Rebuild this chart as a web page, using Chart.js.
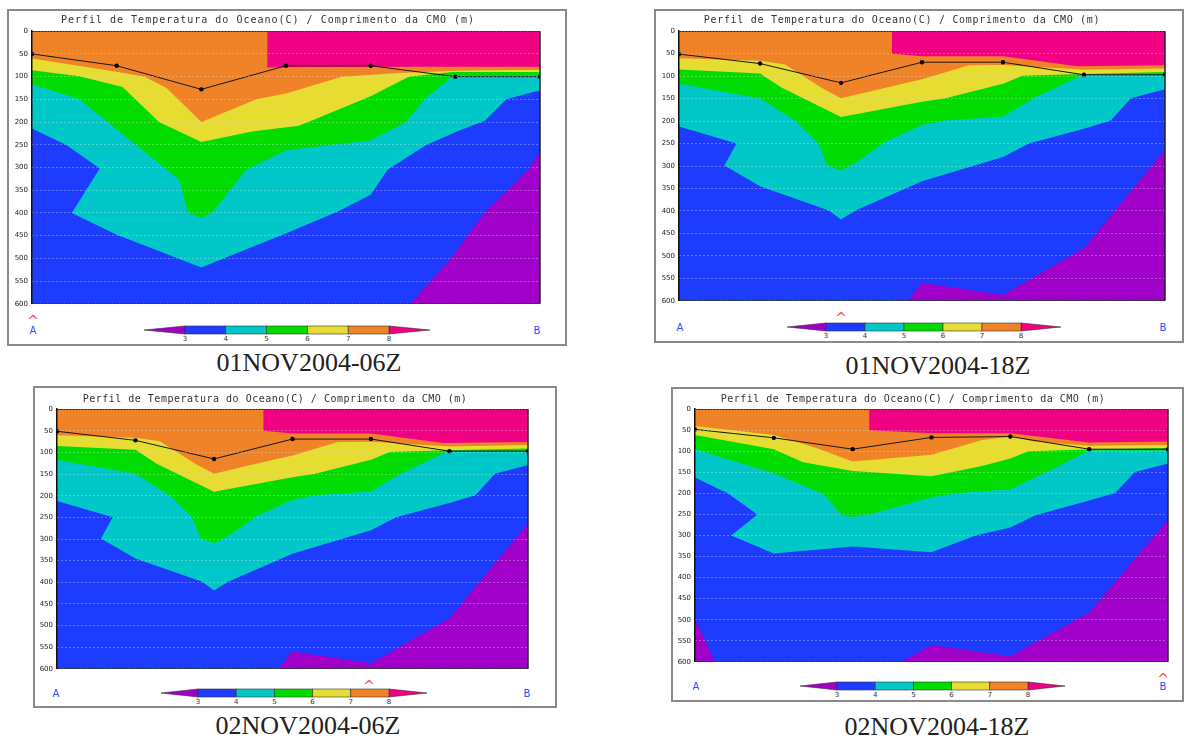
<!DOCTYPE html>
<html>
<head>
<meta charset="utf-8">
<script src="https://cdn.jsdelivr.net/npm/chart.js@4.4.0/dist/chart.umd.min.js"></script>
<style>
body{margin:0;background:#fff;width:1184px;height:739px;overflow:hidden;position:relative}
.moldura{position:absolute;border:2px solid #8a8a8a;box-sizing:border-box;background:#fff}
.t{position:absolute;white-space:nowrap;line-height:1;transform:translate(-50%,-50%)}
.titulo{font-family:"DejaVu Sans Mono",monospace;font-size:10px;color:#333}
.legenda{font-family:"Liberation Serif",serif;font-size:26px;color:#222}
.ab{font-family:"DejaVu Sans",sans-serif;font-size:10px;color:#2a4cff}
.marca{font-family:"DejaVu Sans",sans-serif;font-size:14px;color:#ff4a4a}
.nivel{font-family:"DejaVu Sans",sans-serif;font-size:7px;color:#333}
canvas,svg{position:absolute}
</style>
</head>
<body>
<script>
// estacoes ao longo da secao A-B
const estacoes = [0, 1, 2, 3, 4, 5, 6];
const niveis = [3, 4, 5, 6, 7, 8];
// <3, 3-4, 4-5, 5-6, 6-7, 7-8, >8
const cores = ['#a000c8', '#1e3cff', '#00c8c8', '#00dc00', '#e6dc32', '#f08228', '#f00082'];

// 01NOV2004-06Z  (profundidade da isoterma em m, por posicao na secao)
const cmo_0106 = [50, 76, 128, 76, 76, 100, 100];
const t8_0106 = [[0,0],[2.78,0],[2.78,80],[3.3,79],[4.5,78],[6,78]];
const t7_0106 = [[0,60],[1,89],[1.33,100],[1.59,125],[2,200],[2.65,150],[3,137],[3.66,100],[4.33,92],[5,87],[6,85]];
const t6_0106 = [[0,86],[0.56,99],[1.07,123],[1.5,200],[2,244],[2.6,221],[3.15,208],[3.3,197],[4,143],[4.45,100],[4.96,90],[6,90]];
const t5_0106 = [[0,117],[0.56,150],[1.74,327],[1.84,399],[2,411],[2.13,399],[2.53,305],[3,262],[4,240],[4.41,201],[4.65,147],[4.96,100],[6,97]];
const t4_0106 = [[0,214],[0.41,251],[0.8,302],[0.47,400],[1,448],[2,520],[3.04,442],[3.6,398],[4,360],[4.2,305],[4.65,251],[5.04,219],[5.35,197],[5.6,150],[6,130]];
const t3_0106 = [[4.47,600],[4.95,500],[5.35,398],[5.86,305],[6,266]];

// 01NOV2004-18Z (o painel 02NOV2004-06Z mostra o mesmo campo)
const cmo_0118 = [51, 72, 115, 69, 69, 97, 97];
const t8_0118 = [[0,0],[2.63,0],[2.63,50],[3,56],[4,56],[4.92,78],[6,76]];
const t7_0118 = [[0,60],[1,66],[1.31,74],[1.76,126],[2,149],[2.59,124],[3,107],[3.58,76],[4,75],[5,86],[6,83]];
const t6_0118 = [[0,85],[1,94],[1.27,126],[2,191],[3,157],[3.29,149],[4,117],[4.24,99],[5,95],[6,91]];
const t5_0118 = [[0,117],[1,149],[1.43,199],[1.72,250],[1.83,299],[2,310],[2.18,293],[2.55,246],[3,209],[3.29,199],[4,190],[4.4,147],[5,96],[6,96]];
const t4_0118 = [[0,212],[0.71,250],[0.56,299],[1,345],[1.85,399],[2,419],[2.18,399],[3,334],[4,280],[4.32,250],[5,217],[5.33,199],[5.58,149],[6,129]];
const t3_0118 = [[0,588],[0.03,600],[2.82,600],[3,560],[4,587],[5,483],[6,264]];

// 02NOV2004-18Z
const cmo_0218 = [48, 68, 95, 67, 65, 95, 95];
const t8_0218 = [[0,0],[2.21,0],[2.21,50],[3,57],[4,57],[5,79],[6,77]];
const t7_0218 = [[0,40],[1,61],[1.54,92],[2,124],[3,108],[3.64,73],[4,65],[4.3,77],[5,87],[6,85]];
const t6_0218 = [[0,61],[1,95],[1.37,126],[2,147],[3,159],[3.64,135],[4,117],[4.23,100],[5,96],[6,92]];
const t5_0218 = [[0,95],[1,152],[1.62,201],[1.87,252],[2,256],[2.21,250],[3,209],[3.35,199],[4,190],[4.53,143],[5,98],[6,98]];
const t4_0218 = [[0,162],[0.42,200],[0.79,250],[0.46,300],[1,343],[2,326],[3,340],[3.56,300],[4,281],[4.32,252],[5,217],[5.33,199],[5.58,149],[6,129]];
const t3_0218 = [[0,497],[0.25,600],[2.62,600],[3,560],[4,587],[5,483],[6,263]];

const titulo = 'Perfil de Temperatura do Oceano(C) / Comprimento da CMO (m)';

const paineis = [
  {rotulo: '01NOV2004-06Z', cmo: cmo_0106, iso: [t3_0106, t4_0106, t5_0106, t6_0106, t7_0106, t8_0106],
   caixa: [7, 9, 567, 346], area: [32, 29, 542, 306], tit: [268, 20, 1.0], barra: [144, 185, 389, 430, 330],
   marca: 33, ab: [33, 537, 331], leg: [309, 363]},
  {rotulo: '01NOV2004-18Z', cmo: cmo_0118, iso: [t3_0118, t4_0118, t5_0118, t6_0118, t7_0118, t8_0118],
   caixa: [654, 9, 1184, 343], area: [679, 29, 1167, 303], tit: [902, 20, 0.7], barra: [787, 826, 1021, 1061, 327],
   marca: 841, ab: [680, 1163, 328], leg: [938, 366]},
  {rotulo: '02NOV2004-06Z', cmo: cmo_0118, iso: [t3_0118, t4_0118, t5_0118, t6_0118, t7_0118, t8_0118],
   caixa: [33, 386, 557, 708], area: [57, 407, 530, 671], tit: [275, 399, 0.5], barra: [161, 198, 389, 427, 693],
   marca: 369, ab: [56, 527, 694], leg: [308, 726]},
  {rotulo: '02NOV2004-18Z', cmo: cmo_0218, iso: [t3_0218, t4_0218, t5_0218, t6_0218, t7_0218, t8_0218],
   caixa: [671, 387, 1184, 702], area: [695, 407, 1170, 664], tit: [913, 399, 0.5], barra: [800, 837, 1028, 1065, 686],
   marca: 1163, ab: [696, 1163, 687], leg: [937, 727]}
];

function texto(cls, s, x, y, extra) {
  let d = document.createElement('div');
  d.className = 't ' + cls;
  d.textContent = s;
  d.style.left = x + 'px';
  d.style.top = y + 'px';
  if (extra) Object.assign(d.style, extra);
  document.body.appendChild(d);
  return d;
}

// fundo rosa (>8) e borda direita
const fundo = {
  id: 'fundo',
  beforeDatasetsDraw(chart) {
    const a = chart.chartArea, c = chart.ctx;
    c.save();
    c.fillStyle = cores[6];
    c.fillRect(a.left, a.top, a.right - a.left, a.bottom - a.top);
    c.restore();
  },
  afterDraw(chart) {
    const a = chart.chartArea, c = chart.ctx;
    c.save();
    c.strokeStyle = '#222';
    c.lineWidth = 1.5;
    c.beginPath();
    c.moveTo(a.right, a.top);
    c.lineTo(a.right, a.bottom);
    c.stroke();
    c.restore();
  }
};

const borda = v => v === 0 || v === 600;

function desenha(p) {
  let [bx0, by0, bx1, by1] = p.caixa;
  let m = document.createElement('div');
  m.className = 'moldura';
  m.style.left = bx0 + 'px'; m.style.top = by0 + 'px';
  m.style.width = (bx1 - bx0) + 'px'; m.style.height = (by1 - by0) + 'px';
  document.body.appendChild(m);

  let [x0, y0, x1, y1] = p.area;
  let cv = document.createElement('canvas');
  cv.width = (x1 - x0) + 32;
  cv.height = (y1 - y0) + 12;
  cv.style.left = (x0 - 30) + 'px';
  cv.style.top = (y0 - 6) + 'px';
  document.body.appendChild(cv);

  // isotermas de 3 a 8: cada uma preenchida ate o fundo com a cor da camada abaixo dela
  let conjuntos = [{
    data: estacoes.map((s, i) => ({x: s, y: p.cmo[i]})),
    borderColor: '#1a1a1a', borderWidth: 1, pointRadius: 2.2, pointBorderWidth: 0,
    pointBackgroundColor: '#000', fill: false, tension: 0
  }];
  p.iso.forEach((linha, i) => {
    conjuntos.push({
      data: linha.map(q => ({x: q[0], y: q[1]})),
      borderWidth: 0, pointRadius: 0, tension: 0,
      backgroundColor: cores[i], borderColor: cores[i],
      fill: {value: 600}
    });
  });

  new Chart(cv, {
    type: 'line',
    data: {datasets: conjuntos},
    options: {
      responsive: false, animation: false,
      layout: {padding: {top: 6, bottom: 6, left: 0, right: 2}},
      plugins: {legend: {display: false}, tooltip: {enabled: false}},
      scales: {
        x: {type: 'linear', min: 0, max: 6, display: false},
        y: {
          type: 'linear', reverse: true, min: 0, max: 600,
          afterFit: s => { s.width = 30; },
          ticks: {stepSize: 50, autoSkip: false, padding: 4, color: '#222',
                  font: {family: 'DejaVu Sans', size: 7}},
          grid: {z: 1, drawTicks: false, lineWidth: 1,
                 color: c => (c.tick && borda(c.tick.value)) ? '#222' : 'rgba(220,220,220,0.75)'},
          border: {z: 1, display: true, color: '#111', width: 1.5,
                   dash: c => (c.tick && borda(c.tick.value)) ? [2, 1] : [1, 3]}
        }
      }
    },
    plugins: [fundo]
  });

  texto('titulo', titulo, p.tit[0], p.tit[1], {letterSpacing: p.tit[2] + 'px'});
  texto('marca', '^', p.marca, y1 + 15);
  texto('ab', 'A', p.ab[0], p.ab[2]);
  texto('ab', 'B', p.ab[1], p.ab[2]);
  texto('legenda', p.rotulo, p.leg[0], p.leg[1]);

  // barra de cores
  let [pl, c0, c1, pr, yc] = p.barra;
  let h = 8, w = pr - pl, a = c0 - pl, b = c1 - pl, dc = (c1 - c0) / 5;
  let s = '<svg xmlns="http://www.w3.org/2000/svg" width="' + w + '" height="' + (h + 2) + '">';
  s += '<polygon points="0,' + (h / 2 + 1) + ' ' + a + ',1 ' + a + ',' + (h + 1) + '" fill="' + cores[0] + '" stroke="#333" stroke-width="0.6"/>';
  s += '<polygon points="' + w + ',' + (h / 2 + 1) + ' ' + b + ',1 ' + b + ',' + (h + 1) + '" fill="' + cores[6] + '" stroke="#333" stroke-width="0.6"/>';
  for (let i = 0; i < 5; i++) {
    s += '<rect x="' + (a + i * dc) + '" y="1" width="' + dc + '" height="' + h + '" fill="' + cores[i + 1] + '" stroke="#333" stroke-width="0.6"/>';
  }
  s += '</svg>';
  let sv = document.createElement('div');
  sv.innerHTML = s;
  let el = sv.firstChild;
  el.style.left = pl + 'px';
  el.style.top = (yc - h / 2 - 1) + 'px';
  document.body.appendChild(el);
  niveis.forEach((n, i) => texto('nivel', String(n), c0 + i * dc, yc + 9));
}

paineis.forEach(desenha);
</script>
</body>
</html>
